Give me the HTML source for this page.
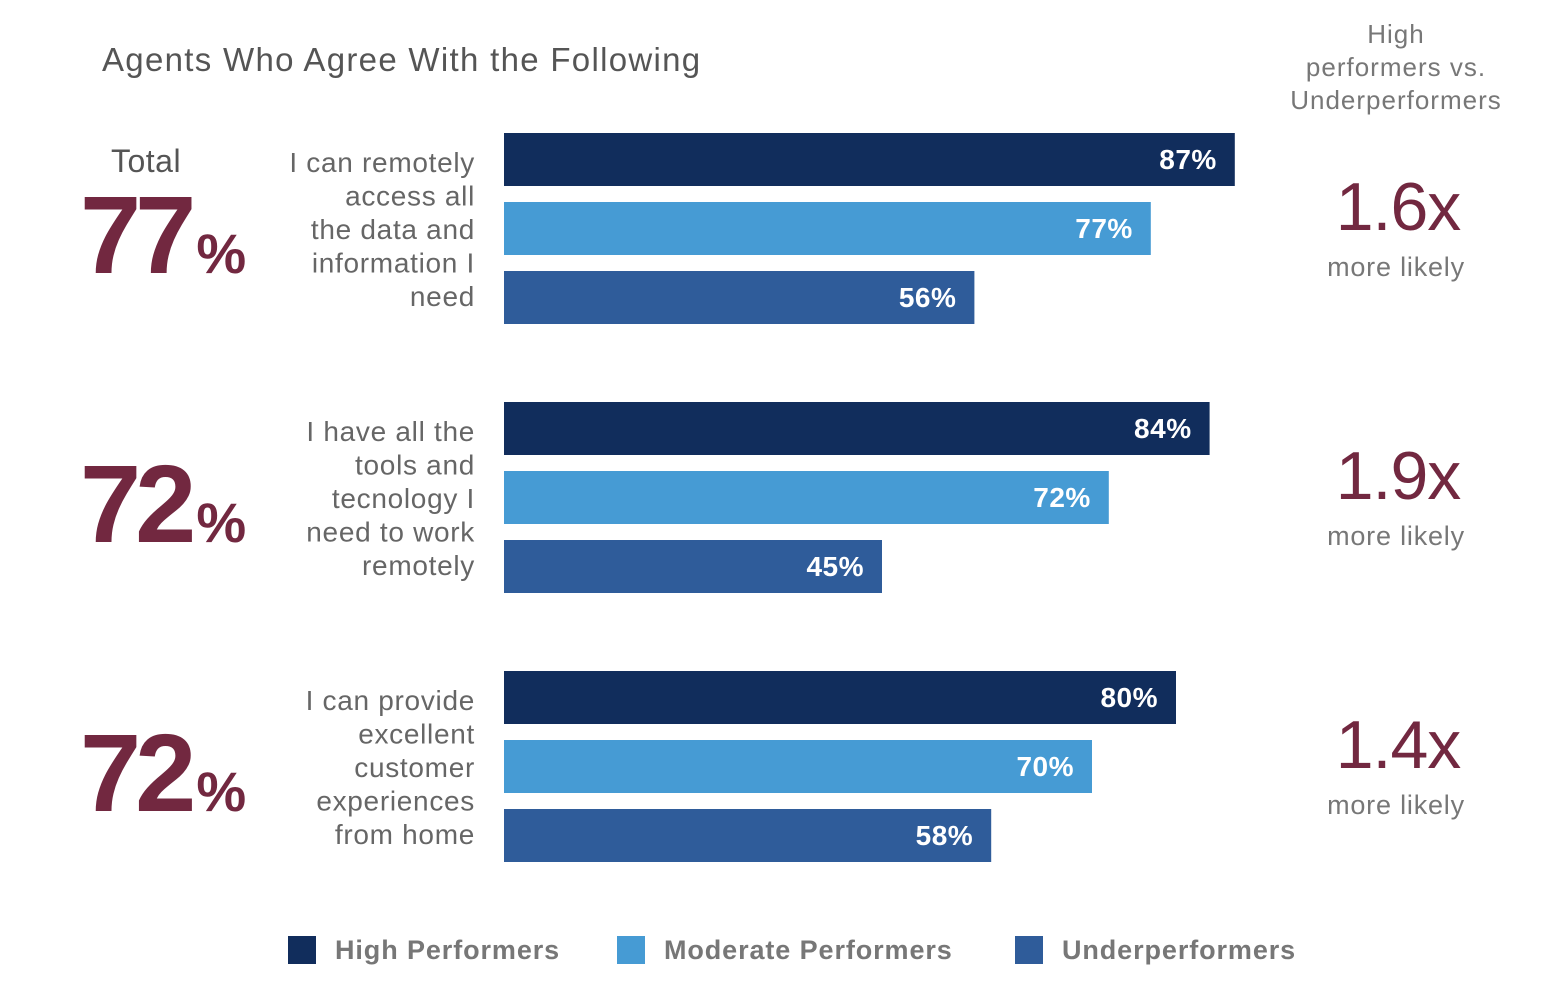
<!DOCTYPE html>
<html><head><meta charset="utf-8"><style>
html,body{margin:0;padding:0;background:#fff;width:1552px;height:992px;overflow:hidden}
svg{display:block}
text{font-family:"Liberation Sans",sans-serif}
</style></head><body>
<svg id="chart" width="1552" height="992">
<text x="102" y="71" font-size="33" letter-spacing="1.3" fill="#555">Agents Who Agree With the Following</text>
<g font-size="26" letter-spacing="1" fill="#777" text-anchor="middle">
<text x="1396" y="43">High</text><text x="1396" y="76">performers vs.</text><text x="1396" y="109">Underperformers</text></g>
<text x="146" y="172" font-size="32" letter-spacing="0.5" fill="#555" text-anchor="middle">Total</text>
<g id="bars"></g>
<g font-size="27" letter-spacing="0.9" font-weight="bold" fill="#777">
<rect x="288" y="936" width="28" height="28" fill="#112d5c"/>
<text x="335" y="959">High Performers</text>
<rect x="617" y="936" width="28" height="28" fill="#469bd4"/>
<text x="664" y="959">Moderate Performers</text>
<rect x="1015" y="936" width="28" height="28" fill="#2f5c9a"/>
<text x="1062" y="959">Underperformers</text>
</g>
</svg>
<script>
const categories=[["I can remotely","access all","the data and","information I","need"],["I have all the","tools and","tecnology I","need to work","remotely"],["I can provide","excellent","customer","experiences","from home"]];
const highValues=[87,84,80];
const moderateValues=[77,72,70];
const underValues=[56,45,58];
const totals=[77,72,72];
const ratios=["1.6x","1.9x","1.4x"];
const NS="http://www.w3.org/2000/svg";
const g=document.getElementById('bars');
const x=v=>504+v*8.4;
const groupTop=i=>133+i*269;
function mk(tag,attrs,txt){const e=document.createElementNS(NS,tag);for(const k in attrs)e.setAttribute(k,attrs[k]);if(txt!==undefined)e.textContent=txt;g.appendChild(e);return e;}
const series=[[highValues,"#112d5c","high"],[moderateValues,"#469bd4","moderate"],[underValues,"#2f5c9a","under"]];
categories.forEach((lines,i)=>{
  const top=groupTop(i);
  series.forEach((s,j)=>{
    const y=top+j*69;const v=s[0][i];
    const r=mk('rect',{x:504,y:y,width:x(v)-504,height:53,fill:s[1]});
    
    
    const t=mk('text',{x:x(v)-18,y:y+36,'font-size':28,'font-weight':'bold',fill:'#fff','text-anchor':'end','letter-spacing':0.5},v+'%');
    
    
  });
  const n=lines.length;const mid=top+96;
  lines.forEach((ln,k)=>{
    const t=mk('text',{x:475,y:mid+(k-(n-1)/2)*33.5+10,'font-size':28,'letter-spacing':0.7,fill:'#666','text-anchor':'end'},ln);
    
    
  });
  const big=mk('text',{x:80,y:top+140,'font-size':110,'font-weight':'bold',fill:'#722840','letter-spacing':-6});
  
  
  const ts1=document.createElementNS(NS,'tspan');ts1.textContent=totals[i];big.appendChild(ts1);
  const ts2=document.createElementNS(NS,'tspan');ts2.setAttribute('font-size','56');ts2.setAttribute('dx','6');ts2.setAttribute('letter-spacing','0');ts2.textContent='%';big.appendChild(ts2);
  const rt=mk('text',{x:1398,y:top+97,'font-size':68,fill:'#722840','text-anchor':'middle','letter-spacing':-1},ratios[i]);
  
  
  const ml=mk('text',{x:1396,y:top+143,'font-size':27,'letter-spacing':0.8,fill:'#777','text-anchor':'middle'},'more likely');
  
  
});
</script>
</body></html>
